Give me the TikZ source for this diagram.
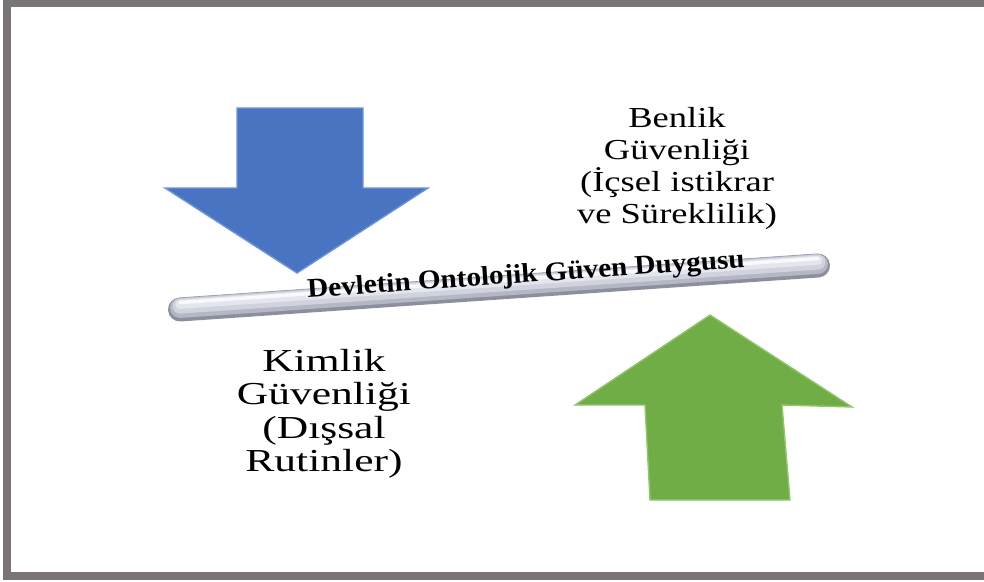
\documentclass[tikz,border=0pt]{standalone}
\usepackage{fontspec}
\setmainfont{Liberation Serif}
\definecolor{framegray}{HTML}{7A7574}
\definecolor{bluemain}{HTML}{4874C2}
\definecolor{bluelight}{HTML}{6A93D8}
\definecolor{greenmain}{HTML}{70AD47}
\definecolor{greenlight}{HTML}{92C66C}
\definecolor{barA}{HTML}{8C909D}
\definecolor{barB}{HTML}{B4B8C4}
\definecolor{barC}{HTML}{D0D3DE}
\definecolor{barD}{HTML}{E4E6EE}
\definecolor{barE}{HTML}{F8F9FC}
\tikzset{
  lbl/.style={align=center, inner sep=0pt, transform shape},
  arrowshape/.style={line width=1.4pt, line join=miter},
  barline/.style={line cap=round},
}
\begin{document}
\begin{tikzpicture}[x=1pt,y=-1pt]
\useasboundingbox (0,0) rectangle (984,581);
% frame
\fill[framegray] (3,0) rectangle (984,7);
\fill[framegray] (3,0) rectangle (11,580);
\fill[framegray] (3,572) rectangle (984,580);
% blue arrow (down)
\filldraw[arrowshape, fill=bluemain, draw=bluelight]
  (237,108) -- (363,108) -- (363,188) -- (428,188) -- (297,273) -- (165,188) -- (237,188) -- cycle;
% green arrow (up)
\filldraw[arrowshape, fill=greenmain, draw=greenlight]
  (710,315) -- (852,407) -- (782,405) -- (790,500) -- (650,500) -- (645,405) -- (575,405) -- cycle;
% bar (layered strokes for a rounded, shaded look)
\coordinate (bl) at (180,309.5);
\coordinate (br) at (818,265.5);
\draw[barline, barA, line width=24pt] (bl) -- (br);
\draw[barline, barB, line width=20pt] ([yshift=1.6pt]bl) -- ([yshift=1.6pt]br);
\draw[barline, barC, line width=15pt] ([yshift=3.4pt]bl) -- ([yshift=3.4pt]br);
\draw[barline, barD, line width=9pt] ([yshift=5.2pt]bl) -- ([yshift=5.2pt]br);
\draw[barline, barE, line width=3.5pt] ([yshift=7pt]bl) -- ([yshift=7pt]br);
% texts
\node[lbl, xscale=1.26, anchor=north, font=\fontsize{29}{32}\selectfont] (benlik) at (677,107)
  {Benlik\\Güvenliği\\(İçsel istikrar\\ve Süreklilik)};
\node[lbl, xscale=1.36, anchor=north, font=\fontsize{32}{33.5}\selectfont] (kimlik) at (324,349)
  {Kimlik\\Güvenliği\\(Dışsal\\Rutinler)};
\node[inner sep=0pt, rotate=4, xscale=1.08, transform shape, font=\bfseries\fontsize{27}{28}\selectfont] (duygu) at (526,276)
  {Devletin Ontolojik Güven Duygusu};
\end{tikzpicture}
\end{document}
